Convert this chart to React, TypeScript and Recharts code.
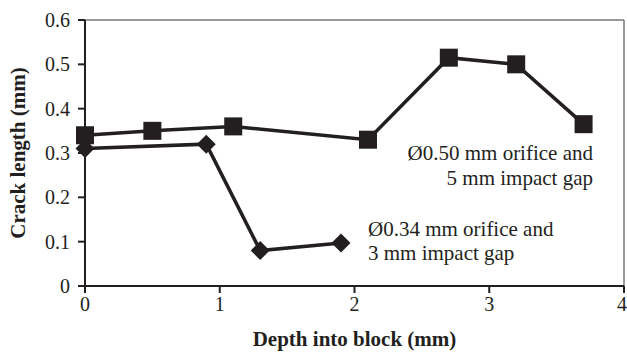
import React from 'react';
import { LineChart, Line, XAxis, YAxis, ReferenceLine, ReferenceDot, Label } from 'recharts';

const squareDepth = [0, 0.5, 1.1, 2.1, 2.7, 3.2, 3.7];
const squareCrack = [0.34, 0.35, 0.36, 0.33, 0.515, 0.5, 0.365];
const diamondDepth = [0, 0.9, 1.3, 1.9];
const diamondCrack = [0.31, 0.32, 0.08, 0.097];
const xTicks = [0, 1, 2, 3, 4];
const yTicks = [0, 0.1, 0.2, 0.3, 0.4, 0.5, 0.6];
const labelSquare = ['\u00D80.50 mm orifice and', '5 mm impact gap'];
const labelDiamond = ['\u00D80.34 mm orifice and', '3 mm impact gap'];

const squareData = squareDepth.map((x, i) => ({ x, y: squareCrack[i] }));
const diamondData = diamondDepth.map((x, i) => ({ x, y: diamondCrack[i] }));

const INK = '#231f20';
const FONT = "'Liberation Serif', serif";

const SquareDot = (props: any) => {
  const { cx, cy } = props;
  if (cx == null || cy == null) return null;
  return <rect x={cx - 9} y={cy - 9} width={18} height={18} fill={INK} />;
};

const DiamondDot = (props: any) => {
  const { cx, cy } = props;
  if (cx == null || cy == null) return null;
  const r = 9.5;
  return <path d={`M${cx},${cy - r}L${cx + r},${cy}L${cx},${cy + r}L${cx - r},${cy}Z`} fill={INK} />;
};

const makeLabel = (lines: string[], anchor: 'start' | 'end') => (props: any) => {
  const vb = props.viewBox || {};
  const x = (vb.x ?? 0) + (vb.width ?? 0) / 2;
  const y = (vb.y ?? 0) + (vb.height ?? 0) / 2;
  return (
    <text x={x} y={y} textAnchor={anchor} style={{ fontFamily: FONT, fontSize: 21 }} fill={INK}>
      {lines.map((l, i) => (
        <tspan key={i} x={x} dy={i === 0 ? 7 : 24.5}>{l}</tspan>
      ))}
    </text>
  );
};

export default function App() {
  return (
    <div style={{ position: 'absolute', left: 0, top: 0, background: '#fff' }}>
      <LineChart width={627} height={356} margin={{ top: 20, right: 3, bottom: 0, left: 0 }}>
        <XAxis
          type="number"
          dataKey="x"
          domain={[0, 4]}
          ticks={xTicks}
          allowDuplicatedCategory={false}
          stroke={INK}
          strokeWidth={2}
          tickSize={7}
          tickMargin={4}
          height={70}
          tick={{ fill: INK, fontSize: 20, style: { fontFamily: FONT } } as any}
        >
          <Label
            value="Depth into block (mm)"
            position="insideBottom"
            offset={10}
            style={{ fontFamily: FONT, fontSize: 21, fontWeight: 'bold', fill: INK }}
          />
        </XAxis>
        <YAxis
          type="number"
          domain={[0, 0.6]}
          ticks={yTicks}
          tickFormatter={(v: number) => String(v)}
          stroke={INK}
          strokeWidth={2}
          tickSize={7}
          tickMargin={8}
          width={85}
          tick={{ fill: INK, fontSize: 20, style: { fontFamily: FONT } } as any}
        >
          <Label
            value="Crack length (mm)"
            angle={-90}
            position="insideLeft"
            offset={18}
            style={{ textAnchor: 'middle', fontFamily: FONT, fontSize: 21, fontWeight: 'bold', fill: INK }}
          />
        </YAxis>
        <ReferenceLine y={0.6} stroke="#777" strokeWidth={1.5} />
        <ReferenceLine x={4} stroke="#777" strokeWidth={1.5} />
        <Line
          data={squareData}
          dataKey="y"
          stroke={INK}
          strokeWidth={3.5}
          dot={<SquareDot />}
          isAnimationActive={false}
        />
        <Line
          data={diamondData}
          dataKey="y"
          stroke={INK}
          strokeWidth={3.5}
          dot={<DiamondDot />}
          isAnimationActive={false}
        />
        <ReferenceDot x={3.77} y={0.3} r={0} fill="none" stroke="none" label={makeLabel(labelSquare, 'end')} />
        <ReferenceDot x={2.1} y={0.129} r={0} fill="none" stroke="none" label={makeLabel(labelDiamond, 'start')} />
      </LineChart>
    </div>
  );
}
